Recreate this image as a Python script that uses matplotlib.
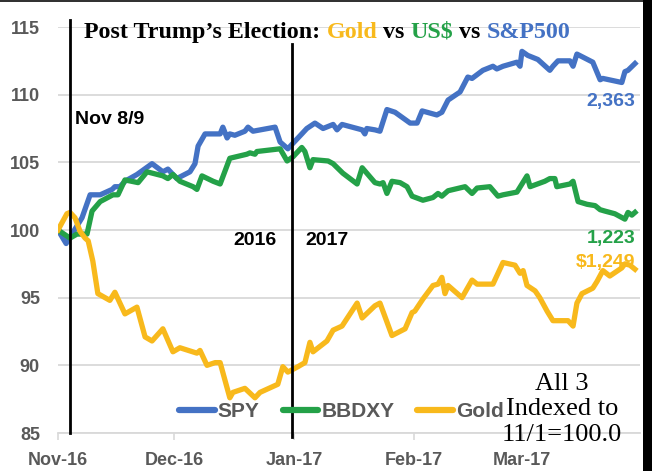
import numpy as np
import matplotlib
matplotlib.use("Agg")
import matplotlib.pyplot as plt
import matplotlib.dates as mdates
from matplotlib.patches import Rectangle

# all three series indexed to 11/1/2016 = 100, x = days after 11/1
spy_days = [0, 2.1, 6.2, 8.3, 10.9, 14.0, 14.7, 16.0, 17.3, 20.4, 24.3, 27.1, 28.4, 30.7,
            34.1, 35.4, 36.2, 38.0, 40.6, 41.9, 42.6, 43.7, 44.4, 45.7, 48.3, 49.1, 50.4,
            56.1, 57.4, 59.4, 60.7, 63.0, 64.3, 66.4, 68.5, 71.1, 72.1, 73.4, 78.6, 79.3,
            79.8, 81.9, 83.2, 85.0, 87.1, 91.0, 92.8, 94.1, 97.9, 99.2, 100.8, 103.9, 105.9,
            107.0, 109.8, 112.4, 113.4, 115.0, 118.6, 119.4, 119.9, 121.4, 124.0, 127.1,
            127.9, 129.2, 132.3, 133.1, 134.1, 138.2, 140.1, 140.8, 145.7, 146.5, 147.3, 149.1]
spy_vals = [100, 99.0, 100.9, 102.6, 102.6, 103.0, 103.2, 103.2, 103.6, 104.1, 104.9, 104.3,
            104.5, 103.8, 104.3, 104.9, 106.2, 107.1, 107.1, 107.1, 107.6, 106.8, 107.1, 107.0,
            107.3, 107.6, 107.3, 107.6, 106.5, 106.0, 106.4, 107.1, 107.5, 107.9, 107.5, 107.8,
            107.4, 107.8, 107.4, 107.1, 107.5, 107.4, 107.3, 108.9, 108.7, 107.9, 107.9, 108.8,
            108.5, 108.7, 109.6, 110.2, 111.3, 111.2, 111.8, 112.1, 111.9, 112.1, 112.4, 112.1,
            113.2, 112.9, 112.6, 111.8, 112.1, 112.5, 112.5, 112.1, 113.0, 112.4, 111.1, 111.2,
            110.9, 111.7, 111.8, 112.3]

usd_days = [0, 3.1, 4.9, 7.5, 8.8, 10.9, 14.2, 15.5, 17.3, 20.7, 23.0, 27.1, 28.4, 29.7,
            31.5, 34.9, 35.9, 37.2, 40.1, 41.9, 44.4, 48.8, 49.6, 50.9, 51.4, 57.4, 59.2,
            60.7, 63.0, 63.8, 65.1, 65.9, 69.8, 71.1, 73.6, 77.3, 78.6, 81.9, 83.2, 84.0,
            85.0, 86.3, 88.4, 90.2, 91.5, 94.3, 96.9, 98.2, 99.2, 100.8, 105.2, 107.0, 108.3,
            111.6, 113.7, 115.0, 118.6, 121.2, 122.0, 125.8, 127.1, 128.4, 128.9, 132.3,
            133.1, 134.4, 136.7, 138.8, 140.1, 141.3, 143.9, 146.5, 147.3, 148.3, 149.1]
usd_vals = [100, 99.4, 99.7, 99.7, 101.4, 102.1, 102.6, 102.6, 103.7, 103.5, 104.3, 104.0,
            103.8, 104.1, 103.6, 103.2, 103.0, 104.0, 103.6, 103.4, 105.3, 105.6, 105.7, 105.6,
            105.8, 106.0, 105.1, 105.4, 106.1, 105.8, 104.6, 105.2, 105.1, 104.9, 104.2, 103.4,
            104.6, 103.5, 103.4, 103.5, 102.7, 103.6, 103.5, 103.2, 102.5, 102.2, 102.4, 102.7,
            102.5, 102.9, 103.2, 102.7, 103.1, 103.2, 102.5, 102.6, 102.8, 104.0, 103.2, 103.6,
            103.8, 103.8, 103.2, 103.4, 103.6, 102.1, 101.9, 101.8, 101.5, 101.4, 101.2, 100.8,
            101.3, 101.1, 101.3]

gold_days = [0, 2.3, 3.1, 4.4, 5.7, 7.0, 7.8, 9.0, 10.3, 13.4, 14.7, 17.3, 20.4, 22.5, 24.3,
             27.1, 29.7, 31.5, 35.9, 36.7, 38.5, 40.6, 41.9, 44.4, 45.2, 48.3, 50.9, 52.2,
             56.8, 58.1, 59.4, 62.0, 63.8, 65.1, 65.9, 69.5, 71.1, 73.4, 77.3, 78.6, 81.9,
             83.2, 86.3, 89.7, 91.5, 92.2, 94.3, 96.9, 98.2, 99.2, 100.0, 100.8, 104.4, 107.0,
             108.3, 112.4, 115.0, 118.1, 119.4, 120.2, 121.2, 123.3, 124.5, 126.4, 127.9,
             131.8, 133.1, 134.1, 135.4, 138.2, 139.3, 140.8, 142.6, 145.7, 146.5, 147.8, 149.1]
gold_vals = [100, 101.2, 101.3, 100.9, 99.9, 99.4, 99.2, 97.7, 95.3, 94.8, 95.4, 93.8, 94.3,
             92.1, 91.8, 92.7, 91.0, 91.3, 90.9, 91.1, 90.0, 90.2, 90.2, 87.6, 88.0, 88.3, 87.6,
             88.0, 88.6, 89.9, 89.5, 89.9, 90.2, 91.7, 91.0, 91.8, 92.6, 92.9, 94.6, 93.5, 94.4,
             94.6, 92.2, 92.7, 93.9, 94.0, 94.9, 95.9, 96.0, 96.5, 95.3, 95.9, 95.0, 96.3, 96.0,
             96.0, 97.6, 97.4, 96.8, 97.0, 95.9, 95.5, 95.0, 94.0, 93.3, 93.3, 92.9, 94.6, 95.3,
             95.7, 96.2, 97.0, 96.6, 97.2, 97.5, 97.4, 97.1]

series_names = ["SPY", "BBDXY", "Gold"]
last_labels = ["2,363", "1,223", r"\$1,249"]
election_day = 3.1      # where the "Nov 8/9" marker line sits
year_break = 60.5       # 2016 / 2017 divider

BLUE = "#4472C4"
GREEN = "#24A148"
GOLD = "#F8B91C"
GREY = "#595959"

base = mdates.date2num(np.datetime64("2016-11-01"))

fig = plt.figure(figsize=(6.52, 4.71), dpi=100)
ax = fig.add_axes([58 / 652, 38 / 471, 582 / 652, 406 / 471])

for days, vals, name, col in zip([spy_days, usd_days, gold_days],
                                 [spy_vals, usd_vals, gold_vals],
                                 series_names, [BLUE, GREEN, GOLD]):
    ax.plot(base + np.array(days), vals, color=col, lw=3.8, label=name,
            solid_joinstyle="round", zorder=3)

ax.set_ylim(85, 115)
ax.set_xlim(base, base + 150.4)
ax.set_yticks(np.arange(85, 116, 5))
ax.xaxis.set_major_locator(mdates.MonthLocator())
ax.xaxis.set_major_formatter(mdates.DateFormatter("%b-%y"))
ax.grid(axis="y", color="#d9d9d9", lw=1.3)
ax.set_axisbelow(True)
for s in ["top", "right", "left"]:
    ax.spines[s].set_visible(False)
ax.spines["bottom"].set_color("#d9d9d9")
ax.spines["bottom"].set_linewidth(1.3)
ax.tick_params(axis="y", length=0, pad=13)
ax.tick_params(axis="x", length=5, width=1.2, color="#d9d9d9", pad=9)
for lab in ax.get_xticklabels() + ax.get_yticklabels():
    lab.set_fontfamily("Liberation Sans")
    lab.set_fontweight("bold")
    lab.set_fontsize(13)
    lab.set_color(GREY)

# marker lines
ax.plot([base + election_day] * 2, [115.5, 85], color="black", lw=2, clip_on=False, zorder=4)
ax.plot([base + year_break] * 2, [113.75, 84.7], color="black", lw=2, clip_on=False, zorder=4)

sans = dict(family="Liberation Sans", weight="bold", fontsize=14)
ax.text(base + 4.4, 108.2, "Nov 8/9", color="black", va="center", ha="left", **sans)
ax.text(base + 56.5, 99.2, "2016", color="black", va="center", ha="right", **sans)
ax.text(base + 64.0, 99.2, "2017", color="black", va="center", ha="left", **sans)

for lbl, yv, col in zip(last_labels, [109.5, 99.4, 97.6], [BLUE, GREEN, GOLD]):
    ax.text(base + 149.3, yv, lbl, color=col, va="center", ha="right", **sans)

ax.text(base + 130.2, 86.75, "All 3\nIndexed to\n11/1=100.0", family="Liberation Serif",
        fontsize=19, ha="center", va="center", linespacing=1.22, color="black",
        clip_on=False, zorder=5)

# coloured title pieces
pieces = [("Post Trump\u2019s Election: ", "black"), ("Gold", GOLD), (" vs ", "black"),
          (r"US\$", GREEN), (" vs ", "black"), ("S&P500", BLUE)]
tfont = dict(family="Liberation Serif", weight="bold", fontsize=17.3)
prev = ax.text(base + 6.8, 114.6, pieces[0][0], color=pieces[0][1], ha="left",
               va="center", zorder=5, **tfont)
for txt, col in pieces[1:]:
    prev = ax.annotate(txt, xy=(1, 0), xycoords=prev, ha="left", va="bottom",
                       color=col, zorder=5, **tfont)

leg = ax.legend(loc="center", bbox_to_anchor=(0.487, 0.052), ncol=3, frameon=False,
                handlelength=1.7, handletextpad=0.15, columnspacing=1.1,
                prop=dict(family="Liberation Sans", weight="bold", size=15))
for t in leg.get_texts():
    t.set_color(GREY)
for h in leg.legend_handles:
    h.set_linewidth(4.5)
    h.set_solid_capstyle("round")

# frame pieces of the original screenshot
fig.add_artist(Rectangle((643 / 652, 0), 9 / 652, 1, transform=fig.transFigure,
                         color="black", lw=0))
fig.add_artist(Rectangle((0, 469 / 471), 643 / 652, 2 / 471, transform=fig.transFigure,
                         color="#333333", lw=0))

fig.savefig("out.png", dpi=100)
